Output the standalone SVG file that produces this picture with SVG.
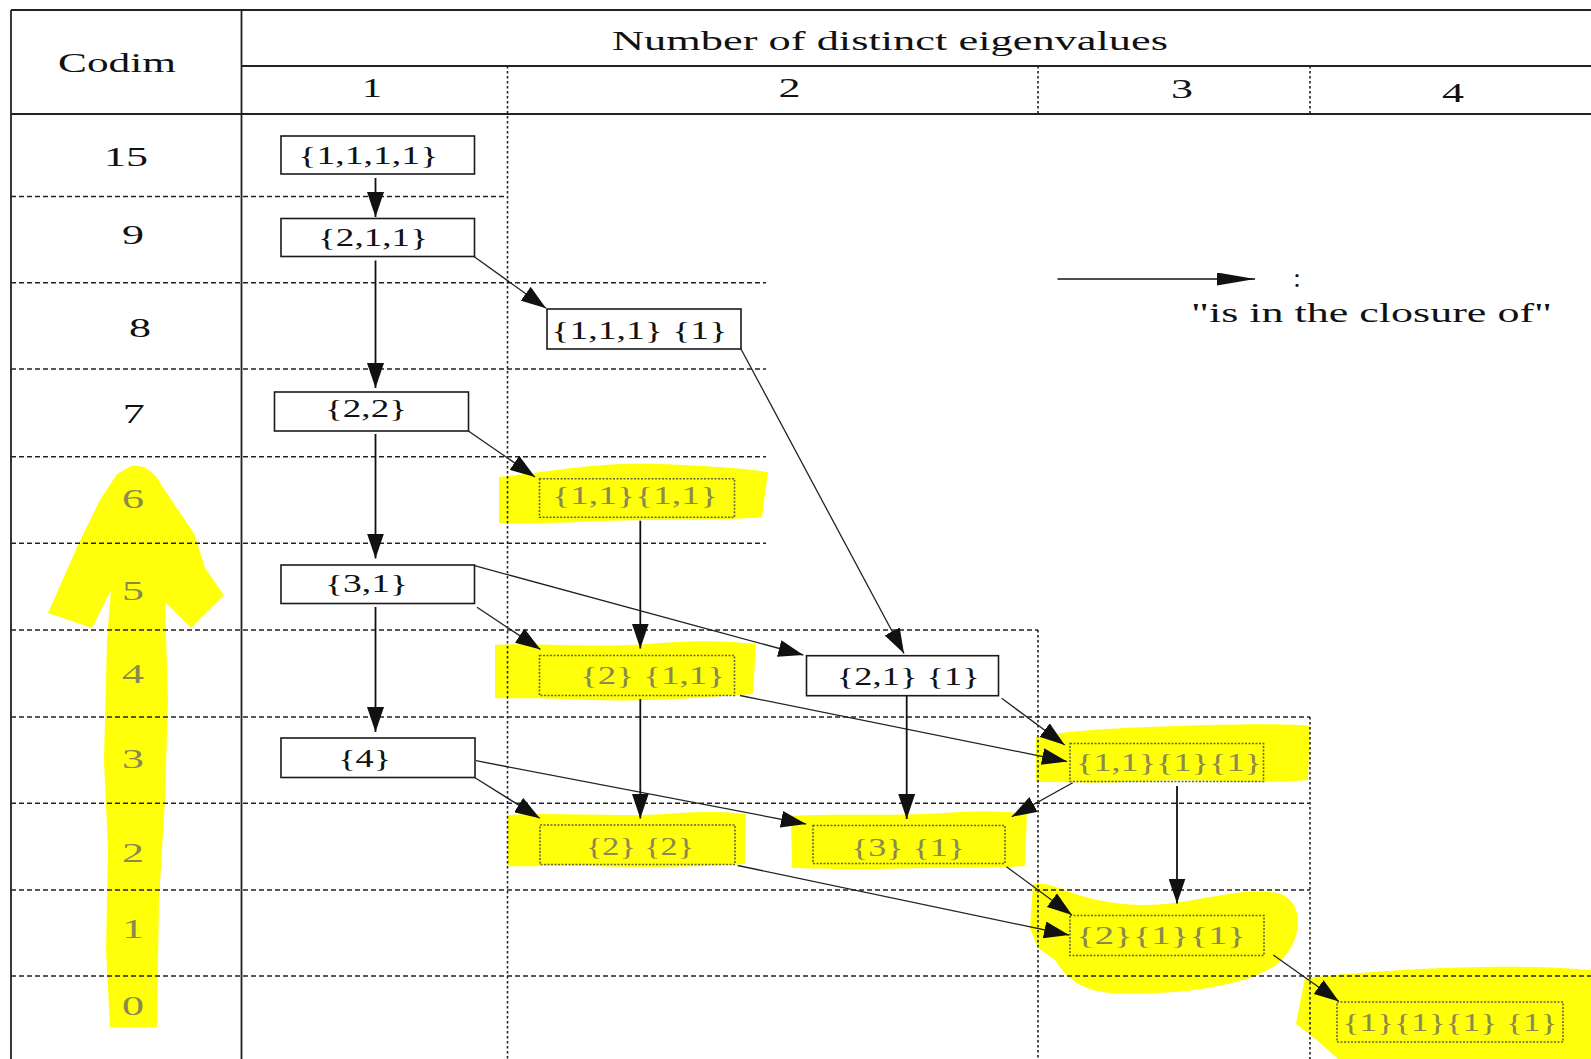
<svg xmlns="http://www.w3.org/2000/svg" width="1591" height="1059" viewBox="0 0 1591 1059">
<style>
text{font-family:"Liberation Serif","Times New Roman",serif;fill:#111;text-anchor:middle}
.hdr{font-size:27px}
.num{font-size:28px}
.nt{font-size:26px}
.hl text{fill:#8a8a50}
.frame{stroke:#222;stroke-width:1.8;fill:none}
.dash{stroke:#222;stroke-width:1.4;stroke-dasharray:5 3;fill:none}
.dot{stroke:#222;stroke-width:1.6;stroke-dasharray:2.5 2.5;fill:none}
.box rect{fill:none;stroke:#1a1a1a;stroke-width:1.6}
.hl rect{stroke:#66663a;stroke-dasharray:2 1.5}
.yel{fill:#ffff0a}
.e{stroke:#222;stroke-width:1.3;fill:none;marker-end:url(#ah)}
.v{stroke:#111;stroke-width:1.8}
</style>
<defs>
<marker id="ah" markerUnits="userSpaceOnUse" viewBox="0 0 25 17" refX="25" refY="8.5" markerWidth="25" markerHeight="17" orient="auto">
<path d="M0,0 L25,8.5 L0,17 Z" fill="#111"/>
</marker>
<marker id="lah" markerUnits="userSpaceOnUse" viewBox="0 0 38 13" refX="38" refY="6.5" markerWidth="38" markerHeight="13" orient="auto">
<path d="M0,0 L38,6.5 L0,13 Z" fill="#111"/>
</marker>
</defs>
<rect width="1591" height="1059" fill="#fff"/>

<g id="highlights">
<path class="yel" d="M131,466 C146,464 156,474 162,486 L195,535 L205,568 L224,595 L191,628 L165,602 L168,700 L165,800 L159,900 L157,1027 L110,1027 L106,950 L108,850 L104,760 L107,640 L111,590 L92,628 L48,613 L78,545 L100,500 L117,474 Z"/>
<path class="yel" d="M499,477 C560,470 600,462 660,464 C710,466 740,468 768,472 L762,517 C720,521 660,519 600,521 C560,523 520,524 499,523 Z"/>
<path class="yel" d="M495,645 C540,642 600,649 660,643 C700,640 730,641 756,644 L753,694 C710,697 650,702 590,700 C550,698 520,699 495,698 Z"/>
<path class="yel" d="M507,815 C560,812 620,818 680,813 C710,811 730,812 746,814 L745,864 C700,867 640,868 590,866 C550,865 525,867 508,866 Z"/>
<path class="yel" d="M791,816 C840,813 900,817 960,812 C990,811 1010,812 1027,814 L1025,866 C980,869 930,867 880,869 C840,870 810,868 792,868 Z"/>
<path class="yel" d="M1036,737 C1080,728 1150,727 1210,725 C1260,724 1290,724 1310,726 L1308,780 C1260,785 1200,778 1150,781 C1100,784 1060,782 1036,782 Z"/>
<path class="yel" d="M1033,884 C1055,880 1075,903 1140,905 C1190,906 1235,886 1278,893 C1308,902 1302,945 1276,965 C1240,990 1160,996 1110,993 C1078,990 1064,975 1055,960 L1038,948 L1030,928 Z"/>
<path class="yel" d="M1305,978 C1360,972 1420,968 1483,967 C1530,966 1565,968 1591,970 L1591,1059 L1338,1059 C1328,1050 1318,1040 1296,1024 Z"/>
</g>

<g id="grid">
<line class="frame" x1="11" y1="10" x2="1591" y2="10"/>
<line class="frame" x1="241.5" y1="66" x2="1591" y2="66"/>
<line class="frame" x1="11" y1="114" x2="1591" y2="114"/>
<line class="frame" x1="11" y1="10" x2="11" y2="1059"/>
<line class="frame" x1="241.5" y1="10" x2="241.5" y2="1059"/>
<line class="dot" x1="507.5" y1="66" x2="507.5" y2="1059"/>
<line class="dot" x1="1038" y1="66" x2="1038" y2="114"/>
<line class="dot" x1="1038" y1="630" x2="1038" y2="1059"/>
<line class="dot" x1="1310" y1="66" x2="1310" y2="114"/>
<line class="dot" x1="1310" y1="717" x2="1310" y2="1059"/>
<line class="dash" x1="11" y1="196.5" x2="507.5" y2="196.5"/>
<line class="dash" x1="11" y1="282.7" x2="766" y2="282.7"/>
<line class="dash" x1="11" y1="369" x2="766" y2="369"/>
<line class="dash" x1="11" y1="456.7" x2="766" y2="456.7"/>
<line class="dash" x1="11" y1="543.3" x2="766" y2="543.3"/>
<line class="dash" x1="11" y1="630" x2="1038" y2="630"/>
<line class="dash" x1="11" y1="717" x2="1310" y2="717"/>
<line class="dash" x1="11" y1="803.3" x2="1310" y2="803.3"/>
<line class="dash" x1="11" y1="890" x2="1310" y2="890"/>
<line class="dash" x1="11" y1="976" x2="1591" y2="976"/>
</g>

<g id="header">
<text class="hdr" x="117" y="71.5" textLength="118" lengthAdjust="spacingAndGlyphs">Codim</text>
<text class="hdr" x="890" y="49.5" textLength="556" lengthAdjust="spacingAndGlyphs">Number of distinct eigenvalues</text>
<text class="num" x="372" y="97" textLength="20" lengthAdjust="spacingAndGlyphs">1</text>
<text class="num" x="789.5" y="97" textLength="22" lengthAdjust="spacingAndGlyphs">2</text>
<text class="num" x="1182" y="97.7" textLength="22" lengthAdjust="spacingAndGlyphs">3</text>
<text class="num" x="1453" y="101.7" textLength="22" lengthAdjust="spacingAndGlyphs">4</text>
</g>

<g id="codim">
<text class="num" x="126" y="166" textLength="44" lengthAdjust="spacingAndGlyphs">15</text>
<text class="num" x="133" y="244" textLength="22" lengthAdjust="spacingAndGlyphs">9</text>
<text class="num" x="140" y="336.7" textLength="22" lengthAdjust="spacingAndGlyphs">8</text>
<text class="num" x="133.7" y="422.7" textLength="22" lengthAdjust="spacingAndGlyphs">7</text>
<g class="hl">
<text class="num" x="133" y="508" textLength="22" lengthAdjust="spacingAndGlyphs">6</text>
<text class="num" x="133" y="600" textLength="22" lengthAdjust="spacingAndGlyphs">5</text>
<text class="num" x="133" y="683" textLength="22" lengthAdjust="spacingAndGlyphs">4</text>
<text class="num" x="133" y="768" textLength="22" lengthAdjust="spacingAndGlyphs">3</text>
<text class="num" x="133" y="861.7" textLength="22" lengthAdjust="spacingAndGlyphs">2</text>
<text class="num" x="133" y="938" textLength="22" lengthAdjust="spacingAndGlyphs">1</text>
<text class="num" x="133" y="1015" textLength="22" lengthAdjust="spacingAndGlyphs">0</text>
</g>
</g>

<g id="connectors">
<line class="e v" x1="375.5" y1="178" x2="375.5" y2="217"/>
<line class="e v" x1="375.5" y1="260.5" x2="375.5" y2="388"/>
<line class="e v" x1="375.5" y1="434" x2="375.5" y2="558.5"/>
<line class="e v" x1="375.5" y1="607" x2="375.5" y2="732"/>
<line class="e" x1="474.3" y1="256.7" x2="546" y2="308.3"/>
<line class="e" x1="741" y1="349" x2="904" y2="653.5"/>
<line class="e" x1="468.4" y1="431" x2="535" y2="477"/>
<line class="e" x1="474.5" y1="565.7" x2="803.3" y2="655"/>
<line class="e" x1="477" y1="607.3" x2="540.5" y2="649.5"/>
<line class="e v" x1="640.3" y1="520.7" x2="640.3" y2="648.5"/>
<line class="e" x1="740" y1="695.5" x2="1067" y2="761.5"/>
<line class="e" x1="1001.7" y1="698.3" x2="1064.7" y2="745"/>
<line class="e v" x1="640.3" y1="699" x2="640.3" y2="818.5"/>
<line class="e v" x1="906.7" y1="696" x2="906.7" y2="819"/>
<line class="e" x1="475" y1="777.7" x2="539.8" y2="818.3"/>
<line class="e" x1="476" y1="760.7" x2="806" y2="824"/>
<line class="e" x1="1072.7" y1="782.7" x2="1011.7" y2="816.7"/>
<line class="e" x1="1006.4" y1="866.7" x2="1072" y2="915"/>
<line class="e" x1="737.7" y1="865.5" x2="1069" y2="935"/>
<line class="e v" x1="1177" y1="786" x2="1177" y2="903.5"/>
<line class="e" x1="1273.3" y1="955" x2="1339" y2="1001.5"/>
</g>

<g id="n1111" class="box"><rect x="281" y="136" width="193.5" height="38"/><text class="nt" x="368.3" y="164" textLength="140" lengthAdjust="spacingAndGlyphs">{1,1,1,1}</text></g>
<g id="n211" class="box"><rect x="281" y="218.5" width="193.5" height="38"/><text class="nt" x="373" y="245.7" textLength="110" lengthAdjust="spacingAndGlyphs">{2,1,1}</text></g>
<g id="n111_1" class="box"><rect x="547" y="309" width="194" height="40"/><text class="nt" x="639.3" y="339" textLength="176" lengthAdjust="spacingAndGlyphs">{1,1,1} {1}</text></g>
<g id="n22" class="box"><rect x="274.5" y="392" width="194" height="39"/><text class="nt" x="366" y="417.2" textLength="82" lengthAdjust="spacingAndGlyphs">{2,2}</text></g>
<g id="n11_11" class="box hl"><rect x="539.5" y="478.7" width="195" height="38.6"/><text class="nt" x="635" y="504" textLength="166" lengthAdjust="spacingAndGlyphs">{1,1}{1,1}</text></g>
<g id="n31" class="box"><rect x="281" y="565" width="193.5" height="38.5"/><text class="nt" x="366.5" y="592.4" textLength="83" lengthAdjust="spacingAndGlyphs">{3,1}</text></g>
<g id="n2_11" class="box hl"><rect x="539.5" y="655.5" width="195" height="40"/><text class="nt" x="652.5" y="684" textLength="145" lengthAdjust="spacingAndGlyphs">{2} {1,1}</text></g>
<g id="n21_1" class="box"><rect x="806.5" y="655.7" width="192" height="40"/><text class="nt" x="908.3" y="684.7" textLength="143" lengthAdjust="spacingAndGlyphs">{2,1} {1}</text></g>
<g id="n4" class="box"><rect x="281" y="738" width="194" height="39.5"/><text class="nt" x="364.7" y="767.4" textLength="53" lengthAdjust="spacingAndGlyphs">{4}</text></g>
<g id="n2_2" class="box hl"><rect x="540" y="825" width="195" height="39.5"/><text class="nt" x="640" y="854.7" textLength="108" lengthAdjust="spacingAndGlyphs">{2} {2}</text></g>
<g id="n3_1" class="box hl"><rect x="813" y="825.5" width="192" height="38"/><text class="nt" x="908" y="855.7" textLength="114" lengthAdjust="spacingAndGlyphs">{3} {1}</text></g>
<g id="n11_1_1" class="box hl"><rect x="1070" y="743.5" width="193.5" height="38"/><text class="nt" x="1169" y="770.7" textLength="186" lengthAdjust="spacingAndGlyphs">{1,1}{1}{1}</text></g>
<g id="n2_1_1" class="box hl"><rect x="1070" y="915.5" width="194" height="40"/><text class="nt" x="1161" y="944" textLength="170" lengthAdjust="spacingAndGlyphs">{2}{1}{1}</text></g>
<g id="n1_1_1_1" class="box hl"><rect x="1337" y="1002" width="226" height="40"/><text class="nt" x="1450" y="1030.7" textLength="215" lengthAdjust="spacingAndGlyphs">{1}{1}{1} {1}</text></g>

<g id="legend">
<line x1="1057.5" y1="279" x2="1255" y2="279" stroke="#111" stroke-width="1.5" marker-end="url(#lah)"/>
<text class="hdr" x="1297" y="286.5">:</text>
<text class="hdr" x="1371.5" y="321.5" textLength="361" lengthAdjust="spacingAndGlyphs">"is in the closure of"</text>
</g>
</svg>
